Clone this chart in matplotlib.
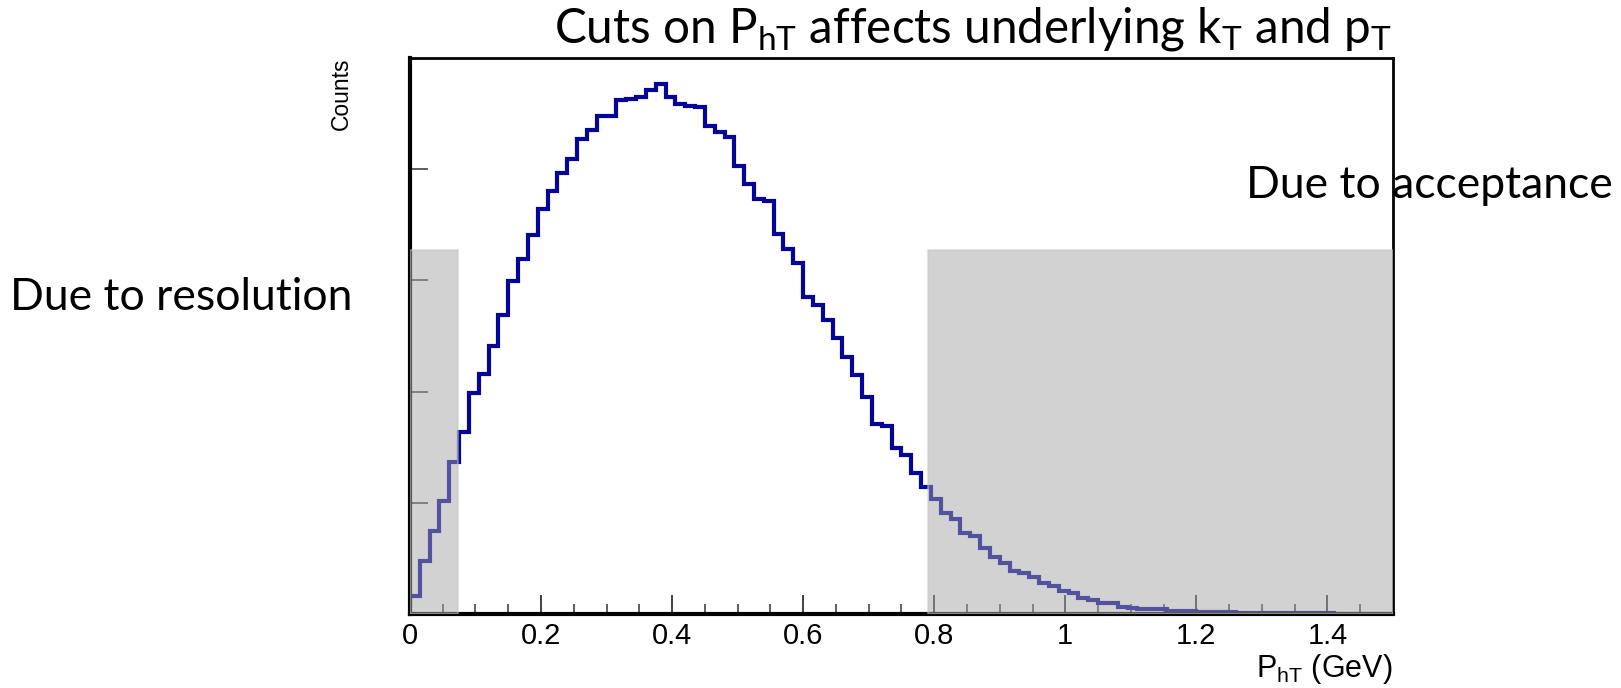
import numpy as np
import matplotlib
matplotlib.use("Agg")
import matplotlib.pyplot as plt
from matplotlib.patches import Rectangle

# P_hT histogram, 100 bins from 0 to 1.5 GeV (counts)
bin_lo = 0.0
bin_hi = 1.5
counts = [
    160, 480, 750, 1020, 1370, 1640, 1990, 2160, 2410, 2690,
    2990, 3190, 3410, 3640, 3800, 3970, 4090, 4270, 4350, 4480,
    4480, 4620, 4630, 4650, 4710, 4770, 4650, 4590, 4570, 4560,
    4390, 4330, 4290, 4030, 3870, 3730, 3710, 3420, 3280, 3160,
    2850, 2780, 2640, 2480, 2310, 2150, 1950, 1710, 1690, 1490,
    1430, 1270, 1140, 1030, 910, 850, 730, 700, 590, 510,
    460, 390, 370, 330, 275, 250, 210, 185, 146, 130,
    100, 96, 66, 57, 45, 42, 45, 30, 27, 25,
    22, 20, 16, 14, 12, 11, 10, 9, 8, 7,
    6, 6, 5, 5, 4, 4, 3, 3, 2, 2,
]
edges = np.linspace(bin_lo, bin_hi, len(counts) + 1)

# shaded cut regions (GeV) and their height (counts)
cut_low = (0.0, 0.074)
cut_high = (0.79, 1.5)
cut_top = 3270

plt.rcParams["font.family"] = ["Liberation Sans", "DejaVu Sans"]
plt.rcParams["mathtext.fontset"] = "custom"
plt.rcParams["mathtext.rm"] = "Liberation Sans"

fig = plt.figure(figsize=(16.21, 6.88), dpi=100)
ax = fig.add_axes([0.2529, 0.1076, 0.8593 - 0.2529, 0.9157 - 0.1076])

ax.stairs(counts, edges, baseline=0, color="#04049a", lw=3.0, zorder=2)

for lo, hi in (cut_low, cut_high):
    ax.add_patch(Rectangle((lo, 0), hi - lo, cut_top, facecolor="#a5a5a5",
                           alpha=0.49, edgecolor="#c8c8c8", lw=1.5, zorder=3))

ax.set_xlim(bin_lo, bin_hi)
ax.set_ylim(0, 5000)
ax.set_xticks([0, 0.2, 0.4, 0.6, 0.8, 1.0, 1.2, 1.4])
ax.set_xticklabels(["0", "0.2", "0.4", "0.6", "0.8", "1", "1.2", "1.4"])
ax.set_xticks(np.arange(0, 1.5, 0.05), minor=True)
ax.set_yticks([1000, 2000, 3000, 4000])
ax.set_yticklabels([])
ax.tick_params(axis="x", which="major", direction="in", length=14, width=1.3,
               color="#333333", labelsize=21, pad=6)
ax.tick_params(axis="x", which="minor", direction="in", length=7, width=1.1,
               color="#333333")
ax.tick_params(axis="y", which="major", direction="in", length=13, width=1.1,
               color="#333333")
for side in ["left", "bottom"]:
    ax.spines[side].set_linewidth(3)
for side in ["top", "right"]:
    ax.spines[side].set_linewidth(2)

ax.set_xlabel(r"P$_{\mathdefault{hT}}$ (GeV)", fontsize=22, loc="right", labelpad=1)
ax.xaxis.label.set_x(1.0)
# y title sits at the top end of the axis, ROOT style
fig.text(0.2107, 0.9157, "Counts", rotation=90, fontsize=16.5, ha="center", va="top")

calibri = ["Lato", "DejaVu Sans"]
fig.text(0.6, 0.958, r"Cuts on P$_{\mathdefault{hT}}$ affects underlying k$_{\mathdefault{T}}$ and p$_{\mathdefault{T}}$",
         fontsize=34.3, family=calibri, ha="center", va="center")
fig.text(0.006, 0.567, "Due to resolution", fontsize=32, family=calibri,
         ha="left", va="center")
fig.text(0.995, 0.731, "Due to acceptance", fontsize=32, family=calibri,
         ha="right", va="center")

fig.savefig("out.png", dpi=100)
